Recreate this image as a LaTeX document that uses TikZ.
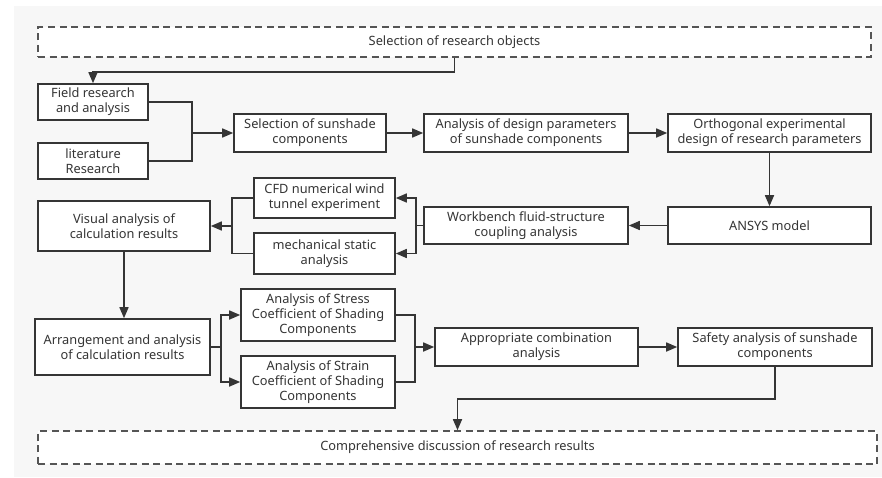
\documentclass[tikz,border=0pt]{standalone}
\usepackage{fontspec}
\setmainfont{Noto Sans}
\usetikzlibrary{arrows.meta}
\definecolor{linegray}{HTML}{353535}
\definecolor{dashgray}{HTML}{555555}
\definecolor{bggray}{HTML}{F7F7F7}
\begin{document}
\begin{tikzpicture}[x=1pt,y=-1pt,
  every node/.style={font=\fontsize{12.8}{15}\selectfont,text=linegray,align=center,inner sep=0pt},
  box/.style={draw=linegray,fill=white,line width=1.6pt},
  dashbox/.style={draw=dashgray,fill=white,line width=1.6pt,dash pattern=on 7pt off 4.5pt},
  link/.style={draw=linegray,line width=1.6pt},
  arr/.style={link,-{Triangle[length=11pt,width=9pt]}}]

\useasboundingbox (0,0) rectangle (882,477);
\fill [bggray] (14,6) rectangle (882,477);

% top and bottom frames
\node [dashbox,minimum width=833pt,minimum height=30pt] (objects) at (454.5,42) {Selection of research objects};
\node [dashbox,minimum width=839pt,minimum height=33pt] (discussion) at (457.5,447.5) {Comprehensive discussion of research results};

% first row
\node [box,minimum width=110pt,minimum height=36pt] (field) at (93,102) {Field research\\and analysis};
\node [box,minimum width=110pt,minimum height=36pt] (literature) at (93,161) {literature\\Research};
\node [box,minimum width=152pt,minimum height=38pt] (selection) at (310,133) {Selection of sunshade\\components};
\node [box,minimum width=204pt,minimum height=38pt] (designpar) at (526,133) {Analysis of design parameters\\of sunshade components};
\node [box,minimum width=203pt,minimum height=38pt] (orthogonal) at (769.5,133) {Orthogonal experimental\\design of research parameters};

% second row
\node [box,minimum width=203pt,minimum height=37pt] (ansys) at (769.5,225.5) {ANSYS model};
\node [box,minimum width=204pt,minimum height=37pt] (workbench) at (526,225.5) {Workbench fluid-structure\\coupling analysis};
\node [box,minimum width=141pt,minimum height=40pt] (cfd) at (324.5,198) {CFD numerical wind\\tunnel experiment};
\node [box,minimum width=141pt,minimum height=41pt] (static) at (324.5,253.5) {mechanical static\\analysis};
\node [box,minimum width=172pt,minimum height=50pt] (visual) at (124,226) {Visual analysis of\\calculation results};

% third row
\node [box,minimum width=175pt,minimum height=56pt] (arrange) at (122.5,347) {Arrangement and analysis\\of calculation results};
\node [box,minimum width=154pt,minimum height=52pt] (stress) at (318,315) {Analysis of Stress\\Coefficient of Shading\\Components};
\node [box,minimum width=154pt,minimum height=52pt] (strain) at (318,382) {Analysis of Strain\\Coefficient of Shading\\Components};
\node [box,minimum width=203pt,minimum height=38pt] (combination) at (536.5,347) {Appropriate combination\\analysis};
\node [box,minimum width=194pt,minimum height=38pt] (safety) at (775,347) {Safety analysis of sunshade\\components};

% junctions
\coordinate (joinA) at (192,133);
\coordinate (joinB) at (416,225.5);
\coordinate (joinC) at (232,226);
\coordinate (joinD) at (221,347);
\coordinate (joinE) at (415,347);

\draw [arr] (objects.south) -- ++(0,14) -| (field.north);
\draw [link] (field.east) -| (joinA);
\draw [link] (literature.east) -| (joinA);
\draw [arr] (joinA) -- (selection.west);
\draw [arr] (selection) -- (designpar);
\draw [arr] (designpar) -- (orthogonal);
\draw [arr] (orthogonal) -- (ansys);
\draw [arr] (ansys) -- (workbench);
\draw [link] (workbench.west) -- (joinB);
\draw [arr] (joinB) |- (cfd.east);
\draw [arr] (joinB) |- (static.east);
\draw [link] (cfd.west) -| (joinC);
\draw [link] (static.west) -| (joinC);
\draw [arr] (joinC) -- (visual.east);
\draw [arr] (visual.south) -- (visual.south |- arrange.north);
\draw [link] (arrange.east) -- (joinD);
\draw [arr] (joinD) |- (stress.west);
\draw [arr] (joinD) |- (strain.west);
\draw [link] (stress.east) -| (joinE);
\draw [link] (strain.east) -| (joinE);
\draw [arr] (joinE) -- (combination.west);
\draw [arr] (combination) -- (safety);
\draw [arr] (safety.south) -- ++(0,32) -| (discussion.north);

\end{tikzpicture}
\end{document}
